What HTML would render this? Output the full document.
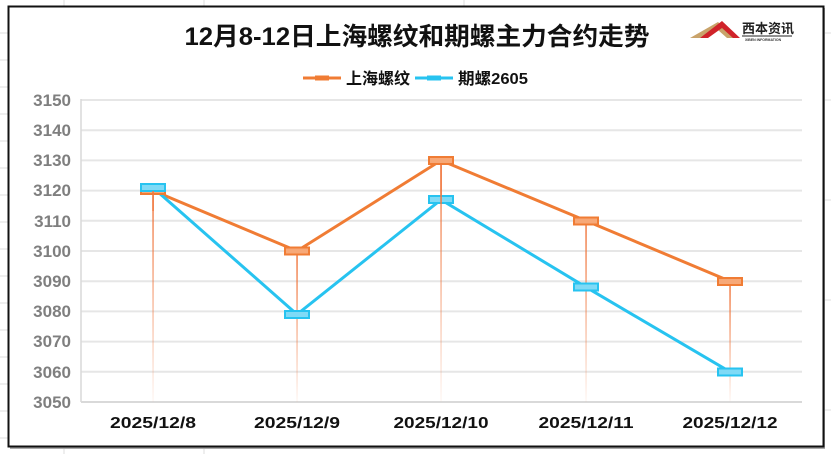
<!DOCTYPE html>
<html><head><meta charset="utf-8"><style>
html,body{margin:0;padding:0;background:#fff;}
svg{display:block;}
text{font-family:"Liberation Sans","Noto Sans CJK SC",sans-serif;font-weight:bold;}
</style></head><body>
<svg width="831" height="454" viewBox="0 0 831 454" xmlns="http://www.w3.org/2000/svg">
<defs>
<linearGradient id="fd" x1="0" y1="0" x2="0" y2="1">
<stop offset="0" stop-color="#f07840" stop-opacity="1"/>
<stop offset="1" stop-color="#f07840" stop-opacity="0.05"/>
</linearGradient>
</defs>
<g stroke="#dcdcdc" stroke-width="1">
<line x1="0" y1="33" x2="8" y2="33"/><line x1="0" y1="60" x2="8" y2="60"/><line x1="0" y1="87" x2="8" y2="87"/>
<line x1="0" y1="114" x2="8" y2="114"/><line x1="0" y1="141" x2="8" y2="141"/><line x1="0" y1="168" x2="8" y2="168"/>
<line x1="0" y1="195" x2="8" y2="195"/><line x1="0" y1="222" x2="8" y2="222"/><line x1="0" y1="249" x2="8" y2="249"/>
<line x1="0" y1="276" x2="8" y2="276"/><line x1="0" y1="303" x2="8" y2="303"/><line x1="0" y1="330" x2="8" y2="330"/>
<line x1="0" y1="357" x2="8" y2="357"/><line x1="0" y1="384" x2="8" y2="384"/><line x1="0" y1="411" x2="8" y2="411"/>
<line x1="0" y1="438" x2="8" y2="438"/>
<line x1="825" y1="33" x2="831" y2="33"/><line x1="825" y1="100" x2="831" y2="100"/><line x1="825" y1="200" x2="831" y2="200"/>
<line x1="825" y1="300" x2="831" y2="300"/><line x1="825" y1="410" x2="831" y2="410"/>
<line x1="64" y1="0" x2="64" y2="6"/><line x1="204" y1="0" x2="204" y2="6"/><line x1="464" y1="0" x2="464" y2="6"/>
<line x1="64" y1="449" x2="64" y2="454"/><line x1="204" y1="449" x2="204" y2="454"/>
</g>
<rect x="10" y="8" width="815" height="441" fill="#555" opacity="0.5"/>
<rect x="8.5" y="6.5" width="815" height="440" fill="#fff" stroke="#111" stroke-width="2"/>
<text x="417" y="45" font-size="25" text-anchor="middle" fill="#111" textLength="465" lengthAdjust="spacingAndGlyphs">12月8-12日上海螺纹和期螺主力合约走势</text>
<g>
<polygon points="690,38 718,22 735,38 727,38 718,30 700,38" fill="#c9a36a"/>
<polygon points="700,38 722,21 740,38 733,38 722,28 708,38" fill="#d0232a"/>
<text x="742" y="33" font-size="13" fill="#222" font-weight="bold">西本资讯</text>
<line x1="742" y1="36" x2="792" y2="36" stroke="#222" stroke-width="1"/>
<text x="745" y="41" font-size="3.5" fill="#333">XIBEN INFORMATION</text>
</g>
<line x1="303" y1="78" x2="341" y2="78" stroke="#f07c34" stroke-width="3"/>
<rect x="315" y="75.5" width="14" height="5" fill="#f07c34"/>
<text x="346" y="84" font-size="16" fill="#111">上海螺纹</text>
<line x1="415" y1="78" x2="453" y2="78" stroke="#27c3f0" stroke-width="3"/>
<rect x="427" y="75.5" width="14" height="5" fill="#27c3f0"/>
<text x="458" y="84" font-size="16" fill="#111" textLength="70" lengthAdjust="spacingAndGlyphs">期螺2605</text>
<g stroke="#e6e6e6" stroke-width="2">
<line x1="81" y1="100" x2="802" y2="100"/><line x1="81" y1="130.2" x2="802" y2="130.2"/>
<line x1="81" y1="160.4" x2="802" y2="160.4"/><line x1="81" y1="190.6" x2="802" y2="190.6"/>
<line x1="81" y1="220.8" x2="802" y2="220.8"/><line x1="81" y1="251" x2="802" y2="251"/>
<line x1="81" y1="281.2" x2="802" y2="281.2"/><line x1="81" y1="311.4" x2="802" y2="311.4"/>
<line x1="81" y1="341.6" x2="802" y2="341.6"/><line x1="81" y1="371.8" x2="802" y2="371.8"/>
</g>
<line x1="81" y1="402" x2="802" y2="402" stroke="#d9d9d9" stroke-width="2"/>
<line x1="81" y1="99" x2="81" y2="402" stroke="#d9d9d9" stroke-width="1.5"/>
<g font-size="17" fill="#7f7f7f" text-anchor="end">
<text x="71" y="106">3150</text><text x="71" y="136">3140</text><text x="71" y="166">3130</text>
<text x="71" y="196">3120</text><text x="71" y="227">3110</text><text x="71" y="257">3100</text>
<text x="71" y="287">3090</text><text x="71" y="317">3080</text><text x="71" y="347">3070</text>
<text x="71" y="378">3060</text><text x="71" y="408">3050</text>
</g>
<g font-size="16" fill="#111" text-anchor="middle">
<text x="153" y="428" textLength="86" lengthAdjust="spacingAndGlyphs">2025/12/8</text>
<text x="297" y="428" textLength="86" lengthAdjust="spacingAndGlyphs">2025/12/9</text>
<text x="441" y="428" textLength="95" lengthAdjust="spacingAndGlyphs">2025/12/10</text>
<text x="586" y="428" textLength="95" lengthAdjust="spacingAndGlyphs">2025/12/11</text>
<text x="730" y="428" textLength="95" lengthAdjust="spacingAndGlyphs">2025/12/12</text>
</g>
<rect x="152.3" y="187.6" width="1.5" height="214" fill="url(#fd)"/>
<rect x="296.3" y="251" width="1.5" height="151" fill="url(#fd)"/>
<rect x="440.3" y="160.4" width="1.5" height="241" fill="url(#fd)"/>
<rect x="585.3" y="220.8" width="1.5" height="181" fill="url(#fd)"/>
<rect x="729.3" y="281.2" width="1.5" height="120" fill="url(#fd)"/>
<polyline points="153,190.6 297,251 441,160.4 586,220.8 730,281.2" fill="none" stroke="#f07c34" stroke-width="3"/>
<polyline points="153,187.6 297,314.4 441,199.7 586,287.2 730,371.8" fill="none" stroke="#27c3f0" stroke-width="3"/>
<g fill="#f7a877" stroke="#f07c34" stroke-width="2">
<rect x="141" y="187" width="24" height="7"/>
<rect x="285" y="247.5" width="24" height="7"/>
<rect x="429" y="157" width="24" height="7"/>
<rect x="574" y="217.5" width="24" height="7"/>
<rect x="718" y="278" width="24" height="7"/>
</g>
<g fill="#7fdaf6" stroke="#27c3f0" stroke-width="2">
<rect x="141" y="184" width="24" height="7"/>
<rect x="285" y="311" width="24" height="7"/>
<rect x="429" y="196" width="24" height="7"/>
<rect x="574" y="283.5" width="24" height="7"/>
<rect x="718" y="368.5" width="24" height="7"/>
</g>
<rect x="152.3" y="191" width="1.5" height="20" fill="#f07840"/>
<rect x="440.3" y="164" width="1.5" height="40" fill="#f07840"/>
</svg>
</body></html>
